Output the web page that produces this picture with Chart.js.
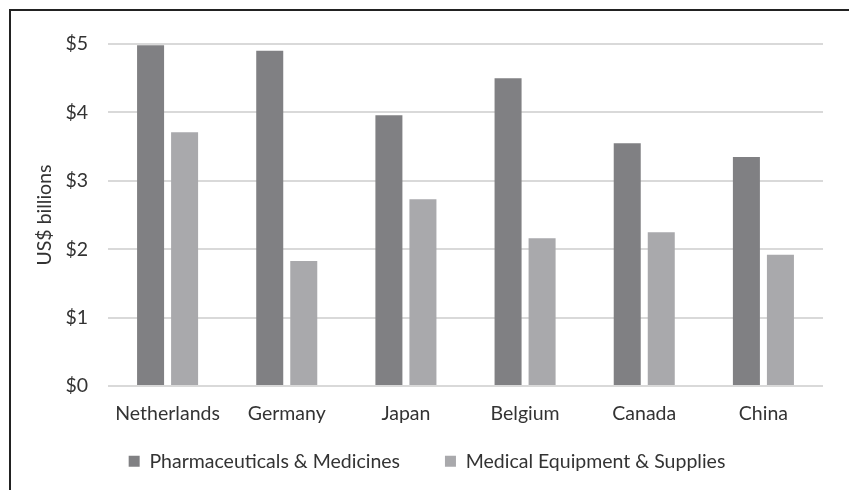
<!DOCTYPE html>
<html>
<head>
<meta charset="utf-8">
<script src="https://cdn.jsdelivr.net/npm/chart.js@4.4.1/dist/chart.umd.min.js"></script>
<style>
  html, body { margin: 0; padding: 0; background: #fff; }
  #frame { position: absolute; left: 9px; top: 9px; width: 900px; height: 600px;
    border-left: 2px solid #222; border-top: 2px solid #222; }
  #wrap { position: absolute; left: 0; top: 0; width: 849px; height: 490px; }
</style>
</head>
<body>
<div id="frame"></div>
<div id="wrap"><canvas id="grafico"></canvas></div>
<script>
  const paises = ['Netherlands', 'Germany', 'Japan', 'Belgium', 'Canada', 'China'];
  const farmacos = [4.98, 4.90, 3.96, 4.50, 3.55, 3.35];
  const equipamentos = [3.71, 1.83, 2.73, 2.16, 2.25, 1.92];
  const ticksY = [0, 1, 2, 3, 4, 5];

  const fonte = { family: 'Lato, "Open Sans", sans-serif', size: 19.5 };
  const corTexto = '#333333';

  new Chart(document.getElementById('grafico'), {
    type: 'bar',
    data: {
      labels: paises,
      datasets: [
        { label: 'Pharmaceuticals & Medicines', data: farmacos, backgroundColor: '#808083',
          barPercentage: 0.794, categoryPercentage: 0.571 },
        { label: 'Medical Equipment & Supplies', data: equipamentos, backgroundColor: '#a9a9ac',
          barPercentage: 0.794, categoryPercentage: 0.571 },
      ],
    },
    options: {
      responsive: true, maintainAspectRatio: false, animation: false,
      layout: { padding: { left: 31, right: 26, top: 44, bottom: 9 } },
      plugins: {
        tooltip: { enabled: false },
        legend: {
          position: 'bottom',
          labels: { color: corTexto, font: fonte, boxWidth: 11, boxHeight: 11, padding: 10,
            // espaço extra entre os dois itens da legenda
            generateLabels: (ch) => Chart.defaults.plugins.legend.labels.generateLabels(ch)
              .map((l, i) => i === 0 ? { ...l, text: l.text + '\u00a0\u00a0\u00a0\u00a0\u00a0\u00a0\u00a0' } : l) },
        },
      },
      scales: {
        x: {
          afterFit: (ax) => { ax.height += 8; },
          grid: { display: false },
          border: { display: false },
          ticks: { color: corTexto, font: fonte, padding: 8 },
        },
        y: {
          min: 0, max: 5,
          afterBuildTicks: (ax) => { ax.ticks = ticksY.map(v => ({ value: v })); },
          afterFit: (ax) => { ax.width = 77; },
          grid: { color: '#d9d9d9', lineWidth: 2, drawTicks: false },
          border: { display: false },
          ticks: { color: corTexto, font: fonte, padding: 20, callback: v => '$' + v },
          title: { display: true, text: 'US$ billions', color: corTexto, font: fonte, padding: { top: 2, bottom: 0 } },
        },
      },
    },
  });
</script>
</body>
</html>
